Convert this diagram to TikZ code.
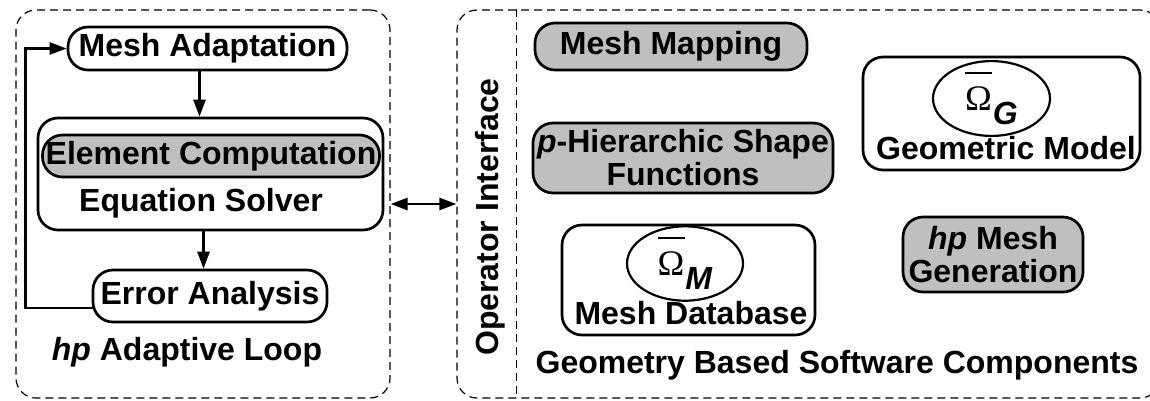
\documentclass[tikz,border=0pt]{standalone}
\usepackage{fontspec}
\setmainfont{Liberation Sans}
\newfontfamily\omegafont{Liberation Serif}
\usetikzlibrary{arrows.meta,shapes.geometric}

% closure symbol with a large sans subscript
\newcommand\omegabar[1]{{\omegafont\fontsize{36}{36}\selectfont\mdseries
  \rlap{\raisebox{37pt}{\rule{27pt}{1.6pt}}}Ω}\kern1pt\raisebox{-14pt}{\textit{#1}}}

\begin{document}
\begin{tikzpicture}[x=1pt,y=-1pt,
    font=\fontsize{32}{33}\selectfont\bfseries,
    box/.style={draw,line width=2.7pt,rounded corners=20pt,inner sep=0pt,align=center},
    shaded/.style={box,fill=black!25},
    frame/.style={draw,line width=1.2pt,dash pattern=on 8pt off 5pt,rounded corners=20pt},
    closure/.style={draw,ellipse,line width=2.2pt,inner sep=0pt},
    head/.tip={Triangle[length=17pt,width=12pt]},
    link/.style={line width=2.7pt}]
  \useasboundingbox (0,0) rectangle (1150,400);

  % adaptive loop
  \node[frame,minimum width=374pt,minimum height=388pt] (loopbox) at (203,204) {};
  \node[box,minimum width=279pt,minimum height=43pt] (adapt) at (207.5,48.5) {Mesh Adaptation};
  \node[box,minimum width=345pt,minimum height=112pt] (solver) at (210.5,174) {};
  \node[shaded,minimum width=337pt,minimum height=42pt] (elem) at (211,156) {Element Computation};
  \node (eqn) at (201,203) {Equation Solver};
  \node[box,minimum width=234pt,minimum height=52pt] (err) at (210,296) {Error Analysis};
  \node (looplabel) at (187,352) {\textit{hp} Adaptive Loop};
  \draw[link,-head] ([xshift=-8pt]adapt.south) -- ([xshift=-8pt]adapt.south |- solver.north);
  \draw[link,-head] ([xshift=-7pt]solver.south) -- ([xshift=-7pt]solver.south |- err.north);
  \draw[link,-head] ([yshift=-12pt,xshift=3pt]err.west) -| ([xshift=-41pt]adapt.west) -- (adapt.west);

  % software components
  \node[frame,minimum width=703pt,minimum height=388pt] (compbox) at (808.5,204) {};
  \draw[frame] ([xshift=60pt]compbox.north west) -- ([xshift=60pt]compbox.south west);
  \node[rotate=90] (opif) at (490,217) {Operator Interface};
  \node[shaded,minimum width=272pt,minimum height=47pt] (mapping) at (671,46.5) {Mesh Mapping};
  \node[shaded,minimum width=300pt,minimum height=70pt] (shapefn) at (683,158) {\textit{p}-Hierarchic Shape\\Functions};
  \node[box,minimum width=253pt,minimum height=110pt] (meshdb) at (688.5,280) {};
  \node[closure,minimum width=116pt,minimum height=53pt] (omegam) at (685,263.5) {\omegabar{M}};
  \node (meshdblabel) at (691,313) {Mesh Database};
  \node[box,minimum width=277pt,minimum height=113pt] (geom) at (1001.5,113.5) {};
  \node[closure,minimum width=117pt,minimum height=57pt] (omegag) at (991.5,98.5) {\omegabar{G}};
  \node (geomlabel) at (1006,148) {Geometric Model};
  \node[shaded,minimum width=180pt,minimum height=75pt] (hpgen) at (993,254.5) {\textit{hp} Mesh\\Generation};
  \node (complabel) at (837,365) {Geometry Based Software Components};

  \draw[link,head-head] (loopbox.east) -- (compbox.west);
\end{tikzpicture}
\end{document}
